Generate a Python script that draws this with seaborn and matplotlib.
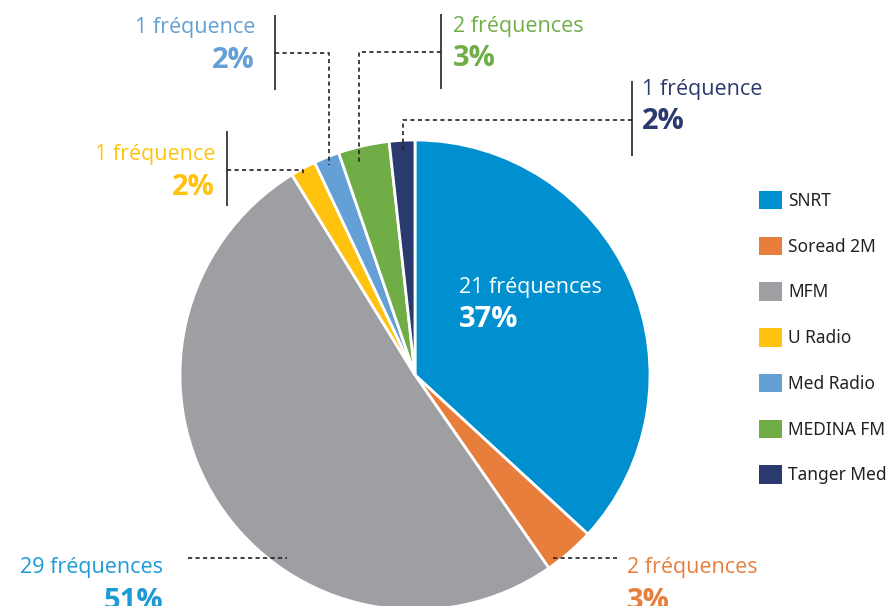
import matplotlib
matplotlib.use("Agg")
import matplotlib.pyplot as plt
import seaborn as sns

# Data
stations = ["SNRT", "Soread 2M", "MFM", "U Radio", "Med Radio", "MEDINA FM", "Tanger Med"]
frequencies = [21, 2, 29, 1, 1, 2, 1]
percents = [37, 3, 51, 2, 2, 3, 2]
colors = ["#0090d0", "#e87e3c", "#9d9fa2", "#ffc20e", "#649fd5", "#70ad47", "#2b3a6e"]
label_colors = ["#ffffff", "#e87e3c", "#1c9ad6", "#ffc20e", "#649fd5", "#70ad47", "#2b3a6e"]

sns.set_theme(style="white")
plt.rcParams["font.family"] = ["Open Sans", "DejaVu Sans"]

W, H = 889, 606
fig = plt.figure(figsize=(W / 100, H / 100), dpi=100)
ax = fig.add_axes([0, 0, 1, 1])


def Y(y):
    # pixel row (from top) -> data y
    return H - y


wedges, _ = ax.pie(frequencies, colors=colors, startangle=90, counterclock=False,
                   center=(415, Y(375)), radius=235,
                   wedgeprops=dict(edgecolor="white", linewidth=2))
ax.set_xlim(0, W)
ax.set_ylim(0, H)
ax.set_aspect("equal")
ax.axis("off")

# label layout: (text x, alignment, baseline 1, baseline 2, bar, dashed path)
layout = {
    "SNRT": (459, "left", 293, 327, None, None),
    "Soread 2M": (627, "left", 573, 609, None, [(553, 558), (617, 558)]),
    "MFM": (163, "right", 573, 609, None, [(188, 558), (287, 558)]),
    "U Radio": (215, "right", 160, 195, (227, 131, 206), [(227, 170), (303, 170), (303, 175)]),
    "Med Radio": (255, "right", 33, 68, (275, 15, 90), [(275, 53), (329, 53), (329, 165)]),
    "MEDINA FM": (453, "left", 32, 66, (441, 14, 89), [(441, 52), (359, 52), (359, 162)]),
    "Tanger Med": (642, "left", 95, 129, (632, 81, 156), [(632, 120), (403, 120), (403, 150)]),
}

for name, n, p, c in zip(stations, frequencies, percents, label_colors):
    x, ha, b1, b2, bar, path = layout[name]
    word = "fréquences" if n > 1 else "fréquence"
    ax.text(x, Y(b1), f"{n} {word}", color=c, fontsize=15.5, ha=ha, va="baseline")
    ax.text(x, Y(b2), f"{p}%", color=c, fontsize=21, fontweight="bold", ha=ha, va="baseline")
    if bar:
        bx, y0, y1 = bar
        ax.plot([bx, bx], [Y(y0), Y(y1)], color="#444444", lw=1.4, solid_capstyle="butt")
    if path:
        ax.plot([pt[0] for pt in path], [Y(pt[1]) for pt in path], color="#222222",
                lw=1.2, ls=(0, (2.5, 2)))

leg = ax.legend(wedges, stations, loc="upper left", bbox_to_anchor=(752 / W, 1 - 184 / H),
                frameon=False, fontsize=12.5, handlelength=1.3, handleheight=1.25,
                labelspacing=1.54, handletextpad=0.4, borderaxespad=0)
for t in leg.get_texts():
    t.set_color("#222222")
    t.set_family(["Noto Sans", "DejaVu Sans"])
for h in leg.legend_handles:
    h.set_edgecolor("none")

fig.savefig("out.png", dpi=100)
